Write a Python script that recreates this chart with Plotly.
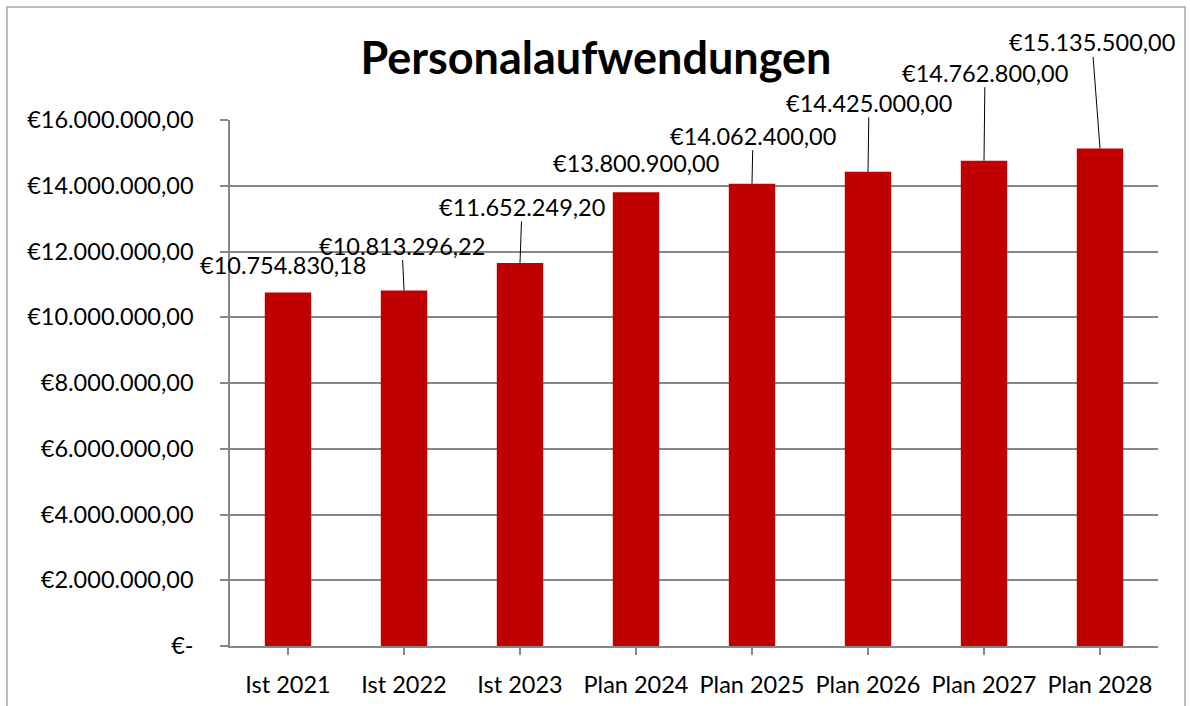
import plotly.graph_objects as go

categories = ["Ist 2021", "Ist 2022", "Ist 2023", "Plan 2024", "Plan 2025", "Plan 2026", "Plan 2027", "Plan 2028"]
values = [10754830.18, 10813296.22, 11652249.20, 13800900.00, 14062400.00, 14425000.00, 14762800.00, 15135500.00]
value_labels = ["€10.754.830,18", "€10.813.296,22", "€11.652.249,20", "€13.800.900,00",
                "€14.062.400,00", "€14.425.000,00", "€14.762.800,00", "€15.135.500,00"]
tick_vals = [0, 2e6, 4e6, 6e6, 8e6, 10e6, 12e6, 14e6, 16e6]
tick_text = ["€-", "€2.000.000,00", "€4.000.000,00", "€6.000.000,00", "€8.000.000,00",
             "€10.000.000,00", "€12.000.000,00", "€14.000.000,00", "€16.000.000,00"]

# label offsets (pixels) from bar top: (dx, dy up), and whether leader line shown
label_offsets = [(-5, 27, False), (-2, 45, True), (2, 56, True), (0, 29, False),
                 (1, 48, True), (1, 69, True), (1, 88, True), (-8, 106, True)]

FONT = "Lato, 'Open Sans', sans-serif"
FS = 23.5

fig = go.Figure(go.Bar(x=list(range(len(categories))), y=values,
                       marker=dict(color="#C00000", line=dict(width=0)),
                       width=0.4, hoverinfo="skip"))

anns = []
for i, (v, t, (dx, dy, arrow)) in enumerate(zip(values, value_labels, label_offsets)):
    if arrow:
        anns.append(dict(x=i, y=v, text=t, showarrow=True, ax=dx, ay=-dy, arrowhead=0,
                         arrowwidth=1, arrowcolor="black", standoff=0, borderpad=0,
                         font=dict(family=FONT, size=FS, color="black")))
    else:
        anns.append(dict(x=i, y=v, text=t, showarrow=False, xshift=dx, yshift=dy,
                         font=dict(family=FONT, size=FS, color="black")))

fig.update_layout(
    width=1190, height=706,
    margin=dict(l=230, r=32, t=120, b=60, autoexpand=False),
    paper_bgcolor="white", plot_bgcolor="white",
    title=dict(text="<b>Personalaufwendungen</b>", x=0.5008, xref="container", xanchor="center",
               y=1 - 58 / 706, yref="container", yanchor="middle",
               font=dict(family=FONT, size=45, color="black")),
    showlegend=False,
    annotations=anns,
    xaxis=dict(range=[-0.5, 7.5], tickmode="array", tickvals=list(range(len(categories))),
               ticktext=categories, showgrid=False, showline=True, linecolor="#868686", linewidth=1.5,
               ticks="outside", tickson="boundaries", ticklen=7, tickcolor="#868686", tickwidth=1.5,
               tickfont=dict(family=FONT, size=FS, color="black"), ticklabelstandoff=10,
               automargin=False, zeroline=False),
    yaxis=dict(range=[0, 16e6], tickvals=tick_vals, ticktext=tick_text,
               showgrid=True, gridcolor="#868686", gridwidth=1.5,
               showline=True, linecolor="#868686", linewidth=1.5,
               ticks="outside", ticklen=8, tickcolor="#868686", tickwidth=1.5,
               tickfont=dict(family=FONT, size=FS, color="black"), ticklabelstandoff=22,
               zeroline=False, automargin=False),
    shapes=[dict(type="rect", xref="paper", yref="paper",
                 x0=(7 - 230) / 928, x1=(1185 - 230) / 928,
                 y0=(646 - 712) / 526, y1=(646 - 7) / 526,
                 line=dict(color="#A6A6A6", width=1.5), fillcolor="rgba(0,0,0,0)", layer="below")],
)

fig.write_html("out.html", config={"displayModeBar": False},
               post_script="document.body.style.margin='0';document.body.style.overflow='hidden';")
